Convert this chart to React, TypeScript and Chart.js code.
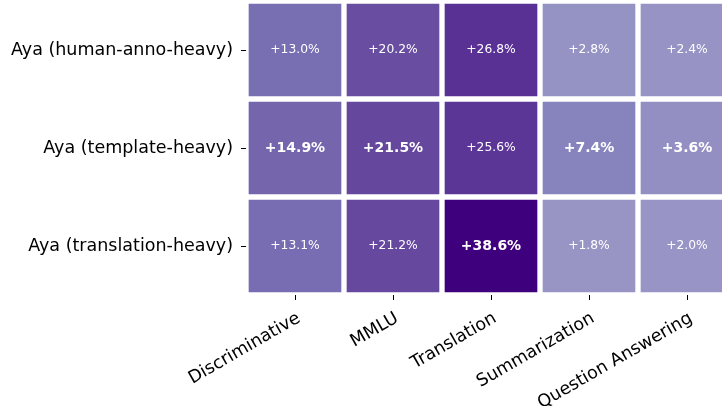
import React, { useEffect, useRef } from "react";
import { Chart, registerables } from "chart.js";

Chart.register(...registerables);

const rowLabels = ["Aya (human-anno-heavy)", "Aya (template-heavy)", "Aya (translation-heavy)"];
const taskLabels = ["Discriminative", "MMLU", "Translation", "Summarization", "Question Answering"];
const humanAnnoHeavy = [13.0, 20.2, 26.8, 2.8, 2.4];
const templateHeavy = [14.9, 21.5, 25.6, 7.4, 3.6];
const translationHeavy = [13.1, 21.2, 38.6, 1.8, 2.0];
const rowValues = [humanAnnoHeavy, templateHeavy, translationHeavy];

// matplotlib "Purples" colormap anchors
const PURPLES = [
  [252, 251, 253],
  [239, 237, 245],
  [218, 218, 235],
  [188, 189, 220],
  [158, 154, 200],
  [128, 125, 186],
  [106, 81, 163],
  [84, 39, 143],
  [63, 0, 125],
];

const FONT = "'DejaVu Sans', 'Liberation Sans', sans-serif";

function purples(t: number): string {
  const c = Math.max(0, Math.min(1, t)) * (PURPLES.length - 1);
  const i = Math.min(PURPLES.length - 2, Math.floor(c));
  const f = c - i;
  const a = PURPLES[i];
  const b = PURPLES[i + 1];
  const m = (k: number) => Math.round(a[k] + (b[k] - a[k]) * f);
  return `rgb(${m(0)},${m(1)},${m(2)})`;
}

const allVals = rowValues.flat();
const vmax = Math.max(...allVals.map((v) => Math.abs(v)));
const colorFor = (v: number) => purples((v + vmax) / (2 * vmax));

const colMax = taskLabels.map((_, c) => Math.max(...rowValues.map((r) => r[c])));

const cellTextPlugin = {
  id: "cellText",
  afterDatasetsDraw(chart: any) {
    const ctx = chart.ctx;
    ctx.save();
    ctx.textAlign = "center";
    ctx.textBaseline = "middle";
    ctx.fillStyle = "#ffffff";
    chart.data.datasets.forEach((ds: any, r: number) => {
      const meta = chart.getDatasetMeta(r);
      meta.data.forEach((el: any, c: number) => {
        const p = el.getProps(["x", "y", "base"], true);
        const v = rowValues[r][c];
        const bold = v === colMax[c];
        ctx.font = bold ? `bold 14px ${FONT}` : `12.3px ${FONT}`;
        ctx.fillText(`+${v.toFixed(1)}%`, p.x, (p.y + p.base) / 2);
      });
    });
    ctx.restore();
  },
};

export default function App() {
  const ref = useRef<HTMLCanvasElement>(null);
  useEffect(() => {
    const chart = new Chart(ref.current!, {
      type: "bar",
      data: {
        labels: taskLabels,
        datasets: rowValues.map((vals, r) => ({
          label: rowLabels[r],
          data: vals.map(() => [r - 0.5, r + 0.5]) as any,
          backgroundColor: vals.map(colorFor),
          borderColor: "#ffffff",
          borderWidth: 3,
          borderSkipped: false,
          barPercentage: 1,
          categoryPercentage: 1,
        })),
      },
      options: {
        responsive: false,
        animation: false,
        layout: { padding: { top: 1, right: 4, left: 0, bottom: 0 } },
        plugins: { legend: { display: false }, tooltip: { enabled: false } },
        scales: {
          x: {
            stacked: true,
            border: { display: false },
            grid: {
              offset: false,
              drawOnChartArea: false,
              drawTicks: true,
              tickLength: 5,
              tickColor: "#000",
              tickWidth: 1,
            },
            ticks: {
              autoSkip: false,
              minRotation: 30,
              maxRotation: 30,
              padding: 8,
              labelOffset: 4,
              color: "#000",
              font: { family: FONT, size: 17.5 },
            },
            afterFit(scale: any) {
              scale.height = 111;
              scale.paddingLeft = 0;
              scale.paddingRight = 0;
            },
          },
          y: {
            type: "linear",
            reverse: true,
            min: -0.5,
            max: 2.5,
            border: { display: false },
            grid: {
              drawOnChartArea: false,
              drawTicks: true,
              tickLength: 5,
              tickColor: "#000",
              tickWidth: 1,
            },
            afterBuildTicks(scale: any) {
              scale.ticks = rowLabels.map((_, i) => ({ value: i }));
            },
            ticks: {
              padding: 8,
              color: "#000",
              font: { family: FONT, size: 17.5 },
              callback: (v: any) => rowLabels[Math.round(Number(v))] ?? "",
            },
            afterFit(scale: any) {
              scale.width = 246;
              scale.paddingTop = 0;
              scale.paddingBottom = 0;
            },
          },
        },
      },
      plugins: [cellTextPlugin],
    });
    return () => chart.destroy();
  }, []);
  return (
    <div
      style={{
        position: "fixed",
        left: 0,
        top: 0,
        width: 722,
        height: 406,
        overflow: "hidden",
        background: "#fff",
      }}
    >
      <canvas ref={ref} width={740} height={406} style={{ display: "block", width: 740, height: 406 }} />
    </div>
  );
}
